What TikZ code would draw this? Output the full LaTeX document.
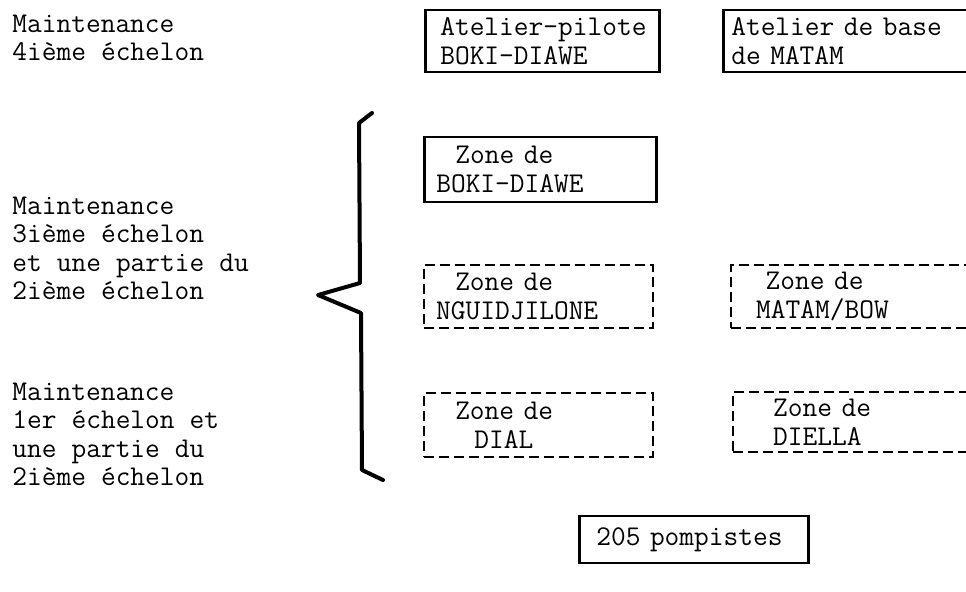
\documentclass[tikz,border=0pt]{standalone}
\usetikzlibrary{calc}
\newcommand{\typefont}{\ttfamily\fontsize{14.3}{14.5}\selectfont\spaceskip=7.5pt\relax}
\newcommand{\levelfont}{\ttfamily\fontsize{14.3}{14.25}\selectfont\spaceskip=7.5pt\relax}
\tikzset{
    level text/.style={anchor=west, align=left, inner sep=0pt, font=\levelfont},
    unit box/.style={draw, rectangle, line width=1.3pt, anchor=west, align=left,
        inner ysep=0pt, font=\typefont},
    planned box/.style={unit box, line width=1.2pt, dash pattern=on 5pt off 2.5pt},
    brace line/.style={line width=2pt, line join=round, line cap=round},
}

\begin{document}
\begin{tikzpicture}[x=0.5pt, y=-0.5pt]
        \useasboundingbox (0,0) rectangle (966,591);
        \clip (0,0) rectangle (966,591);

        % levels
        \node[level text] (L4) at (12,38) {Maintenance\\4ième échelon};
        \node[level text] (L3) at (12,248.5) {Maintenance\\3ième échelon\\et une partie du\\2ième échelon};
        \node[level text] (L1) at (12,434.5) {Maintenance\\1er échelon et\\une partie du\\2ième échelon};

        % ateliers
        \node[unit box, text width=102pt, inner xsep=7.5pt, minimum height=31pt]
            (AP) at (424,41) {Atelier-pilote\\BOKI-DIAWE};
        \node[unit box, text width=131pt, inner xsep=4pt, minimum height=31pt]
            (AB) at (722,41) {Atelier de base\\de MATAM};

        % zones
        \node[unit box, text width=104pt, inner xsep=6pt, minimum height=32.5pt]
            (ZB) at (423,169.5) {~~Zone de\\BOKI-DIAWE};
        \node[planned box, text width=102.5pt, inner xsep=6pt, minimum height=31.5pt]
            (ZN) at (423,296.5) {~~Zone de\\NGUIDJILONE};
        \node[planned box, text width=102.5pt, inner xsep=6pt, minimum height=32pt]
            (ZD) at (423,425) {~~Zone de\\~~~~DIAL};
        \node[planned box, text width=110pt, inner xsep=12.5pt, minimum height=31.5pt]
            (ZM) at (730,296.5) {~Zone de\\MATAM/BOW};
        \node[planned box, text width=94pt, inner xsep=20pt, minimum height=30pt]
            (ZE) at (732,422) {Zone de\\DIELLA};

        % pompistes
        \node[unit box, text width=97.5pt, inner xsep=8.5pt, minimum height=23.5pt]
            (PP) at (578,539.5) {205 pompistes};

        % brace
        \coordinate (BT) at (372,113);
        \coordinate (BM) at (318,295);
        \coordinate (BB) at (383,480);
        \draw[brace line] (BT) -- (359,123) -- (360,283) -- (BM)
            -- (361,313) -- (362,470) -- (BB);
    \end{tikzpicture}
\end{document}
